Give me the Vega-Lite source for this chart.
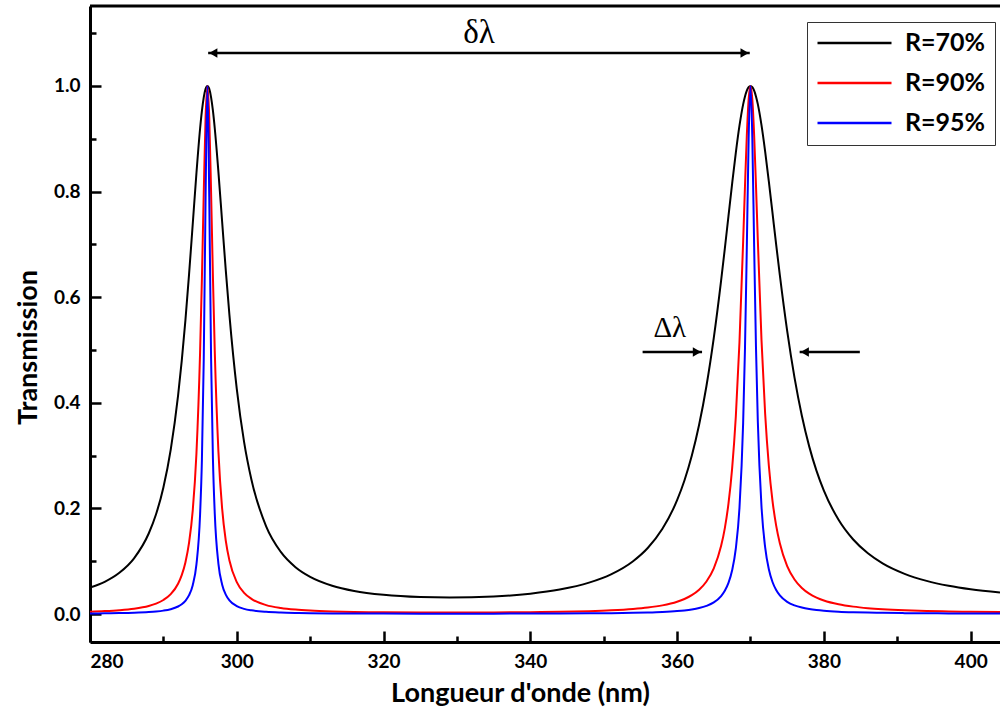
{
  "$schema": "https://vega.github.io/schema/vega-lite/v6.json",
  "width": 910,
  "height": 636,
  "autosize": "none",
  "padding": {"left": 90, "top": 6, "right": 0, "bottom": 67},
  "background": "white",
  "config": {"view": {"stroke": null}, "font": "Lato"},
  "datasets": {
    "curves": [
      {"x":280,"s":"R=70%","T":0.0500},{"x":280,"s":"R=90%","T":0.00452},{"x":280,"s":"R=95%","T":0.00108},
      {"x":282,"s":"R=70%","T":0.0610},{"x":282,"s":"R=90%","T":0.00559},{"x":282,"s":"R=95%","T":0.00133},
      {"x":284,"s":"R=70%","T":0.0781},{"x":284,"s":"R=90%","T":0.00727},{"x":284,"s":"R=95%","T":0.00173},
      {"x":286,"s":"R=70%","T":0.1055},{"x":286,"s":"R=90%","T":0.01009},{"x":286,"s":"R=95%","T":0.00241},
      {"x":288,"s":"R=70%","T":0.1525},{"x":288,"s":"R=90%","T":0.01531},{"x":288,"s":"R=95%","T":0.00367},
      {"x":289,"s":"R=70%","T":0.1890},{"x":289,"s":"R=90%","T":0.01974},{"x":289,"s":"R=95%","T":0.00475},
      {"x":290,"s":"R=70%","T":0.2397},{"x":290,"s":"R=90%","T":0.02653},{"x":290,"s":"R=95%","T":0.00641},
      {"x":291,"s":"R=70%","T":0.3113},{"x":291,"s":"R=90%","T":0.03760},{"x":291,"s":"R=95%","T":0.00917},
      {"x":292,"s":"R=70%","T":0.4135},{"x":292,"s":"R=90%","T":0.05743},{"x":292,"s":"R=95%","T":0.01423},
      {"x":292.5,"s":"R=70%","T":0.4793},{"x":292.5,"s":"R=90%","T":0.0737},{"x":292.5,"s":"R=95%","T":0.01850},
      {"x":293,"s":"R=70%","T":0.5562},{"x":293,"s":"R=90%","T":0.0977},{"x":293,"s":"R=95%","T":0.02501},
      {"x":293.5,"s":"R=70%","T":0.6437},{"x":293.5,"s":"R=90%","T":0.1350},{"x":293.5,"s":"R=95%","T":0.03565},
      {"x":294,"s":"R=70%","T":0.7386},{"x":294,"s":"R=90%","T":0.1963},{"x":294,"s":"R=95%","T":0.05467},
      {"x":294.5,"s":"R=70%","T":0.8342},{"x":294.5,"s":"R=90%","T":0.3031},{"x":294.5,"s":"R=95%","T":0.09338},
      {"x":295,"s":"R=70%","T":0.9190},{"x":295,"s":"R=90%","T":0.4951},{"x":295,"s":"R=95%","T":0.1885},
      {"x":295.25,"s":"R=70%","T":0.9528},{"x":295.25,"s":"R=90%","T":0.6358},{"x":295.25,"s":"R=95%","T":0.2925},
      {"x":295.5,"s":"R=70%","T":0.9785},{"x":295.5,"s":"R=90%","T":0.7973},{"x":295.5,"s":"R=95%","T":0.4823},
      {"x":295.75,"s":"R=70%","T":0.9945},{"x":295.75,"s":"R=90%","T":0.9403},{"x":295.75,"s":"R=95%","T":0.7887},
      {"x":296,"s":"R=70%","T":1},{"x":296,"s":"R=90%","T":1},{"x":296,"s":"R=95%","T":1},
      {"x":296.25,"s":"R=70%","T":0.9946},{"x":296.25,"s":"R=90%","T":0.9405},{"x":296.25,"s":"R=95%","T":0.7892},
      {"x":296.5,"s":"R=70%","T":0.9786},{"x":296.5,"s":"R=90%","T":0.7984},{"x":296.5,"s":"R=95%","T":0.4840},
      {"x":296.75,"s":"R=70%","T":0.9533},{"x":296.75,"s":"R=90%","T":0.6381},{"x":296.75,"s":"R=95%","T":0.2946},
      {"x":297,"s":"R=70%","T":0.9200},{"x":297,"s":"R=90%","T":0.4985},{"x":297,"s":"R=95%","T":0.1906},
      {"x":297.5,"s":"R=70%","T":0.8370},{"x":297.5,"s":"R=90%","T":0.3074},{"x":297.5,"s":"R=95%","T":0.0951},
      {"x":298,"s":"R=70%","T":0.7438},{"x":298,"s":"R=90%","T":0.2006},{"x":298,"s":"R=95%","T":0.05609},
      {"x":298.5,"s":"R=70%","T":0.6513},{"x":298.5,"s":"R=90%","T":0.1390},{"x":298.5,"s":"R=95%","T":0.03682},
      {"x":299,"s":"R=70%","T":0.5661},{"x":299,"s":"R=90%","T":0.1013},{"x":299,"s":"R=95%","T":0.02601},
      {"x":300,"s":"R=70%","T":0.4265},{"x":300,"s":"R=90%","T":0.06038},{"x":300,"s":"R=95%","T":0.01499},
      {"x":301,"s":"R=70%","T":0.3257},{"x":301,"s":"R=90%","T":0.04006},{"x":301,"s":"R=95%","T":0.00979},
      {"x":302,"s":"R=70%","T":0.2543},{"x":302,"s":"R=90%","T":0.02862},{"x":302,"s":"R=95%","T":0.00693},
      {"x":304,"s":"R=70%","T":0.1661},{"x":304,"s":"R=90%","T":0.01692},{"x":304,"s":"R=95%","T":0.00406},
      {"x":306,"s":"R=70%","T":0.1176},{"x":306,"s":"R=90%","T":0.01139},{"x":306,"s":"R=95%","T":0.00272},
      {"x":308,"s":"R=70%","T":0.0887},{"x":308,"s":"R=90%","T":0.00834},{"x":308,"s":"R=95%","T":0.00199},
      {"x":310,"s":"R=70%","T":0.0704},{"x":310,"s":"R=90%","T":0.00650},{"x":310,"s":"R=95%","T":0.00155},
      {"x":313,"s":"R=70%","T":0.0536},{"x":313,"s":"R=90%","T":0.00487},{"x":313,"s":"R=95%","T":0.00116},
      {"x":316,"s":"R=70%","T":0.0437},{"x":316,"s":"R=90%","T":0.00394},{"x":316,"s":"R=95%","T":0.00094},
      {"x":320,"s":"R=70%","T":0.0363},{"x":320,"s":"R=90%","T":0.00324},{"x":320,"s":"R=95%","T":0.00077},
      {"x":325,"s":"R=70%","T":0.0320},{"x":325,"s":"R=90%","T":0.00285},{"x":325,"s":"R=95%","T":0.00068},
      {"x":329,"s":"R=70%","T":0.0311},{"x":329,"s":"R=90%","T":0.00277},{"x":329,"s":"R=95%","T":0.00066},
      {"x":335,"s":"R=70%","T":0.0332},{"x":335,"s":"R=90%","T":0.00296},{"x":335,"s":"R=95%","T":0.00070},
      {"x":340,"s":"R=70%","T":0.0386},{"x":340,"s":"R=90%","T":0.00346},{"x":340,"s":"R=95%","T":0.00082},
      {"x":344,"s":"R=70%","T":0.0464},{"x":344,"s":"R=90%","T":0.00418},{"x":344,"s":"R=95%","T":0.00099},
      {"x":348,"s":"R=70%","T":0.0594},{"x":348,"s":"R=90%","T":0.00543},{"x":348,"s":"R=95%","T":0.00129},
      {"x":351,"s":"R=70%","T":0.0751},{"x":351,"s":"R=90%","T":0.00697},{"x":351,"s":"R=95%","T":0.00166},
      {"x":354,"s":"R=70%","T":0.1000},{"x":354,"s":"R=90%","T":0.00951},{"x":354,"s":"R=95%","T":0.00227},
      {"x":356,"s":"R=70%","T":0.1250},{"x":356,"s":"R=90%","T":0.01220},{"x":356,"s":"R=95%","T":0.00292},
      {"x":358,"s":"R=70%","T":0.1613},{"x":358,"s":"R=90%","T":0.01634},{"x":358,"s":"R=95%","T":0.00392},
      {"x":360,"s":"R=70%","T":0.2155},{"x":360,"s":"R=90%","T":0.02320},{"x":360,"s":"R=95%","T":0.00559},
      {"x":361,"s":"R=70%","T":0.2528},{"x":361,"s":"R=90%","T":0.02841},{"x":361,"s":"R=95%","T":0.00688},
      {"x":362,"s":"R=70%","T":0.2996},{"x":362,"s":"R=90%","T":0.03564},{"x":362,"s":"R=95%","T":0.00868},
      {"x":363,"s":"R=70%","T":0.3583},{"x":363,"s":"R=90%","T":0.04603},{"x":363,"s":"R=95%","T":0.01130},
      {"x":364,"s":"R=70%","T":0.4318},{"x":364,"s":"R=90%","T":0.06163},{"x":364,"s":"R=95%","T":0.01532},
      {"x":365,"s":"R=70%","T":0.5228},{"x":365,"s":"R=90%","T":0.08649},{"x":365,"s":"R=95%","T":0.02193},
      {"x":366,"s":"R=70%","T":0.6317},{"x":366,"s":"R=90%","T":0.1291},{"x":366,"s":"R=95%","T":0.03391},
      {"x":366.5,"s":"R=70%","T":0.6916},{"x":366.5,"s":"R=90%","T":0.1623},{"x":366.5,"s":"R=95%","T":0.04389},
      {"x":367,"s":"R=70%","T":0.7535},{"x":367,"s":"R=90%","T":0.2090},{"x":367,"s":"R=95%","T":0.05889},
      {"x":367.5,"s":"R=70%","T":0.8151},{"x":367.5,"s":"R=90%","T":0.2759},{"x":367.5,"s":"R=95%","T":0.08278},
      {"x":368,"s":"R=70%","T":0.8735},{"x":368,"s":"R=90%","T":0.3736},{"x":368,"s":"R=95%","T":0.1238},
      {"x":368.5,"s":"R=70%","T":0.9248},{"x":368.5,"s":"R=90%","T":0.5152},{"x":368.5,"s":"R=95%","T":0.2011},
      {"x":369,"s":"R=70%","T":0.9652},{"x":369,"s":"R=90%","T":0.7055},{"x":369,"s":"R=95%","T":0.3620},
      {"x":369.25,"s":"R=70%","T":0.9801},{"x":369.25,"s":"R=90%","T":0.8101},{"x":369.25,"s":"R=95%","T":0.5025},
      {"x":369.5,"s":"R=70%","T":0.9911},{"x":369.5,"s":"R=90%","T":0.9057},{"x":369.5,"s":"R=95%","T":0.6947},
      {"x":369.75,"s":"R=70%","T":0.9978},{"x":369.75,"s":"R=90%","T":0.9747},{"x":369.75,"s":"R=95%","T":0.9011},
      {"x":370,"s":"R=70%","T":1},{"x":370,"s":"R=90%","T":1},{"x":370,"s":"R=95%","T":1},
      {"x":370.25,"s":"R=70%","T":0.9978},{"x":370.25,"s":"R=90%","T":0.9747},{"x":370.25,"s":"R=95%","T":0.9014},
      {"x":370.5,"s":"R=70%","T":0.9911},{"x":370.5,"s":"R=90%","T":0.9062},{"x":370.5,"s":"R=95%","T":0.6958},
      {"x":370.75,"s":"R=70%","T":0.9803},{"x":370.75,"s":"R=90%","T":0.8113},{"x":370.75,"s":"R=95%","T":0.5045},
      {"x":371,"s":"R=70%","T":0.9656},{"x":371,"s":"R=90%","T":0.7078},{"x":371,"s":"R=95%","T":0.3645},
      {"x":371.5,"s":"R=70%","T":0.9259},{"x":371.5,"s":"R=90%","T":0.5192},{"x":371.5,"s":"R=95%","T":0.2037},
      {"x":372,"s":"R=70%","T":0.8758},{"x":372,"s":"R=90%","T":0.3787},{"x":372,"s":"R=95%","T":0.1261},
      {"x":372.5,"s":"R=70%","T":0.8192},{"x":372.5,"s":"R=90%","T":0.2813},{"x":372.5,"s":"R=95%","T":0.08485},
      {"x":373,"s":"R=70%","T":0.7595},{"x":373,"s":"R=90%","T":0.2144},{"x":373,"s":"R=95%","T":0.06070},
      {"x":373.5,"s":"R=70%","T":0.6996},{"x":373.5,"s":"R=90%","T":0.1675},{"x":373.5,"s":"R=95%","T":0.04549},
      {"x":374,"s":"R=70%","T":0.6416},{"x":374,"s":"R=90%","T":0.1340},{"x":374,"s":"R=95%","T":0.03534},
      {"x":375,"s":"R=70%","T":0.5361},{"x":375,"s":"R=90%","T":0.09081},{"x":375,"s":"R=95%","T":0.02311},
      {"x":376,"s":"R=70%","T":0.4476},{"x":376,"s":"R=90%","T":0.06544},{"x":376,"s":"R=95%","T":0.01631},
      {"x":377,"s":"R=70%","T":0.3755},{"x":377,"s":"R=90%","T":0.04939},{"x":377,"s":"R=95%","T":0.01216},
      {"x":378,"s":"R=70%","T":0.3175},{"x":378,"s":"R=90%","T":0.03866},{"x":378,"s":"R=95%","T":0.00943},
      {"x":379,"s":"R=70%","T":0.2710},{"x":379,"s":"R=90%","T":0.03113},{"x":379,"s":"R=95%","T":0.00755},
      {"x":380,"s":"R=70%","T":0.2337},{"x":380,"s":"R=90%","T":0.02567},{"x":380,"s":"R=95%","T":0.00620},
      {"x":382,"s":"R=70%","T":0.1785},{"x":382,"s":"R=90%","T":0.01844},{"x":382,"s":"R=95%","T":0.00443},
      {"x":384,"s":"R=70%","T":0.1411},{"x":384,"s":"R=90%","T":0.01400},{"x":384,"s":"R=95%","T":0.00335},
      {"x":386,"s":"R=70%","T":0.1149},{"x":386,"s":"R=90%","T":0.01109},{"x":386,"s":"R=95%","T":0.00265},
      {"x":388,"s":"R=70%","T":0.0959},{"x":388,"s":"R=90%","T":0.00909},{"x":388,"s":"R=95%","T":0.00217},
      {"x":391,"s":"R=70%","T":0.0761},{"x":391,"s":"R=90%","T":0.00706},{"x":391,"s":"R=95%","T":0.00168},
      {"x":394,"s":"R=70%","T":0.0628},{"x":394,"s":"R=90%","T":0.00575},{"x":394,"s":"R=95%","T":0.00137},
      {"x":397,"s":"R=70%","T":0.0535},{"x":397,"s":"R=90%","T":0.00486},{"x":397,"s":"R=95%","T":0.00116},
      {"x":400,"s":"R=70%","T":0.0468},{"x":400,"s":"R=90%","T":0.00423},{"x":400,"s":"R=95%","T":0.00100},
      {"x":404,"s":"R=70%","T":0.0406},{"x":404,"s":"R=90%","T":0.00365},{"x":404,"s":"R=95%","T":0.00087}
    ],
    "arrows": [
      {"x1":296.1,"x2":369.9,"y":1.0625},
      {"x1":355.3,"x2":363.4,"y":0.496},
      {"x1":376.7,"x2":384.9,"y":0.496}
    ],
    "heads": [
      {"x":296.8,"y":1.0625,"dir":"left"},
      {"x":369.2,"y":1.0625,"dir":"right"},
      {"x":362.7,"y":0.496,"dir":"right"},
      {"x":377.4,"y":0.496,"dir":"left"}
    ],
    "notes": [
      {"x":333,"y":1.1,"txt":"δλ","k":"a"},
      {"x":359,"y":0.5417,"txt":"Δλ","k":"b"}
    ],
    "frame": [{"y":1.1515}]
  },
  "layer": [
    {
      "data": {"name": "curves"},
      "mark": {"type": "line", "strokeWidth": 2, "clip": true, "interpolate": "monotone"},
      "encoding": {
        "x": {
          "field": "x", "type": "quantitative",
          "scale": {"domain": [280, 404], "nice": false, "zero": false},
          "axis": {
            "title": "Longueur d'onde (nm)",
            "values": [280,290,300,310,320,330,340,350,360,370,380,390,400],
            "labelExpr": "datum.value % 20 === 0 ? datum.label : ''",
            "format": "d",
            "grid": false,
            "tickSize": {"condition": {"test": "datum.value % 20 === 0", "value": -11}, "value": -6},
            "tickWidth": 2.5, "tickColor": "black",
            "domainColor": "black", "domainWidth": 3,
            "labelFont": "Lato", "labelFontSize": 19, "labelFontWeight": "bold", "labelColor": "black",
            "labelPadding": 21,
            "titleFont": "Lato", "titleFontSize": 27, "titleFontWeight": "bold", "titleColor": "black",
            "titlePadding": 9,
            "titleX": 430
          }
        },
        "y": {
          "field": "T", "type": "quantitative",
          "scale": {"domain": [-0.053, 1.1515], "nice": false, "zero": false},
          "axis": {
            "title": "Transmission",
            "values": [0,0.1,0.2,0.3,0.4,0.5,0.6,0.7,0.8,0.9,1.0,1.1],
            "labelExpr": "round(datum.value*10) % 2 === 0 ? format(datum.value, '.1f') : ''",
            "grid": false,
            "tickSize": {"condition": {"test": "round(datum.value*10) % 2 === 0", "value": -11}, "value": -6},
            "tickWidth": 2.5, "tickColor": "black",
            "domainColor": "black", "domainWidth": 3,
            "labelFont": "Lato", "labelFontSize": 19, "labelFontWeight": "bold", "labelColor": "black",
            "labelPadding": 21,
            "titleFont": "Lato", "titleFontSize": 27, "titleFontWeight": "bold", "titleColor": "black",
            "titlePadding": 11,
            "titleY": 341
          }
        },
        "color": {
          "field": "s", "type": "nominal",
          "scale": {"domain": ["R=70%","R=90%","R=95%"], "range": ["#000000","#ff0000","#0000ff"]},
          "legend": {
            "title": null,
            "orient": "none", "legendX": 717, "legendY": 16,
            "strokeColor": "#333333", "fillColor": "white",
            "padding": 9,
            "clipHeight": 24,
            "rowPadding": 15,
            "symbolType": "stroke", "symbolStrokeWidth": 2.5, "symbolSize": 5476,
            "labelFont": "Lato", "labelFontSize": 25, "labelFontWeight": "bold", "labelColor": "black",
            "labelOffset": 12
          }
        }
      }
    },
    {
      "data": {"name": "frame"},
      "mark": {"type": "rule", "strokeWidth": 3, "color": "black"},
      "encoding": {"y": {"field": "y", "type": "quantitative"}}
    },
    {
      "data": {"name": "arrows"},
      "mark": {"type": "rule", "strokeWidth": 2.5, "color": "black"},
      "encoding": {
        "x": {"field": "x1", "type": "quantitative"},
        "x2": {"field": "x2"},
        "y": {"field": "y", "type": "quantitative"}
      }
    },
    {
      "data": {"name": "heads"},
      "mark": {"type": "point", "filled": true, "size": 90, "color": "black", "opacity": 1},
      "encoding": {
        "x": {"field": "x", "type": "quantitative"},
        "y": {"field": "y", "type": "quantitative"},
        "shape": {"field": "dir", "type": "nominal", "scale": {"domain": ["left","right"], "range": ["triangle-left","triangle-right"]}, "legend": null}
      }
    },
    {
      "data": {"name": "notes"},
      "mark": {"type": "text", "font": "Liberation Serif", "color": "black", "align": "center", "baseline": "middle"},
      "encoding": {
        "x": {"field": "x", "type": "quantitative"},
        "y": {"field": "y", "type": "quantitative"},
        "text": {"field": "txt"},
        "size": {"field": "k", "type": "nominal", "scale": {"domain": ["a","b"], "range": [33, 29]}, "legend": null}
      }
    }
  ]
}
